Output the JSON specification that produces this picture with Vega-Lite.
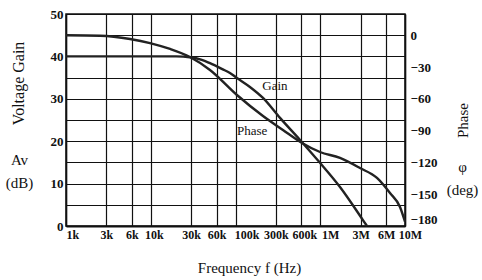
{
  "$schema": "https://vega.github.io/schema/vega-lite/v6.json",
  "width": 339,
  "height": 212,
  "autosize": {"type": "none"},
  "padding": {"left": 66, "top": 14, "right": 77, "bottom": 54},
  "background": "white",
  "config": {
    "view": {"stroke": "#111", "strokeWidth": 1.5},
    "font": "Liberation Serif",
    "axis": {
      "labelFont": "Liberation Serif",
      "titleFont": "Liberation Serif",
      "labelColor": "#111",
      "titleColor": "#111",
      "titleFontWeight": "normal",
      "gridColor": "#111",
      "gridOpacity": 1,
      "gridWidth": 1.2,
      "domainColor": "#111",
      "domainWidth": 1.5,
      "ticks": false,
      "labelOverlap": false
    }
  },
  "datasets": {
    "gain": [
      {"f": 1000, "db": 40},
      {"f": 10000, "db": 40},
      {"f": 20000, "db": 40},
      {"f": 29000, "db": 39.8},
      {"f": 40000, "db": 39.2},
      {"f": 50000, "db": 38.4},
      {"f": 70000, "db": 37.0},
      {"f": 86000, "db": 36.1},
      {"f": 104000, "db": 34.9},
      {"f": 148000, "db": 32.8},
      {"f": 211000, "db": 30.2},
      {"f": 335000, "db": 25.5},
      {"f": 577000, "db": 20.3},
      {"f": 993000, "db": 14.9},
      {"f": 1710000, "db": 9.2},
      {"f": 3190000, "db": 1.4},
      {"f": 3560000, "db": 0}
    ],
    "phase": [
      {"f": 1000, "deg": 0},
      {"f": 2520, "deg": -0.5},
      {"f": 5700, "deg": -3.6},
      {"f": 9800, "deg": -7.4},
      {"f": 16900, "deg": -13},
      {"f": 29000, "deg": -20.6},
      {"f": 50000, "deg": -32.8},
      {"f": 104000, "deg": -56.4},
      {"f": 211000, "deg": -76.2},
      {"f": 363000, "deg": -89.4},
      {"f": 609000, "deg": -101.7},
      {"f": 993000, "deg": -110.2},
      {"f": 1710000, "deg": -115.8},
      {"f": 2940000, "deg": -125.3},
      {"f": 4670000, "deg": -134.7},
      {"f": 6650000, "deg": -148.9},
      {"f": 8730000, "deg": -162.1},
      {"f": 10000000, "deg": -176}
    ],
    "gainLabel": [{"f": 292000, "db": 33, "text": "Gain"}],
    "phaseLabel": [{"f": 157000, "deg": -90, "text": "Phase"}]
  },
  "encoding": {
    "x": {
      "field": "f",
      "type": "quantitative",
      "scale": {"type": "log", "domain": [1000, 10000000]},
      "axis": {
        "values": [1000, 3000, 6000, 10000, 30000, 60000, 100000, 300000, 600000, 1000000, 3000000, 6000000, 10000000],
        "labelExpr": "datum.value >= 1000000 ? round(datum.value / 1000000) + 'M' : round(datum.value / 1000) + 'k'",
        "labelFlush": false,
        "labelOverlap": false,
        "labelAlign": {"condition": {"test": "datum.value == 1000", "value": "left"}, "value": "center"},
        "labelOffset": {"expr": "datum.value == 100000 ? 11 : datum.value == 600000 ? 3 : datum.value == 1000000 ? 10 : datum.value == 10000000 ? 5 : datum.value == 10000 ? 3 : 0"},
        "labelPadding": 3,
        "labelFontSize": 12,
        "labelFontWeight": "bold",
        "grid": true,
        "domainWidth": 2,
        "title": "Frequency f (Hz)",
        "titleFontSize": 15,
        "titleX": 183,
        "titleY": 41,
        "titleAlign": "center",
        "titleBaseline": "middle"
      }
    }
  },
  "layer": [
    {
      "data": {"name": "gain"},
      "mark": {"type": "line", "color": "#222", "strokeWidth": 2.4, "interpolate": "monotone"},
      "encoding": {
        "y": {
          "field": "db",
          "type": "quantitative",
          "scale": {"domain": [0, 50]},
          "axis": {
            "orient": "left",
            "values": [0, 5, 10, 15, 20, 25, 30, 35, 40, 45, 50],
            "labelExpr": "datum.value % 10 === 0 ? datum.label : ''",
            "grid": true,
            "labelPadding": 3,
            "labelFontSize": 13,
            "labelFontWeight": "bold",
            "title": "Voltage Gain",
            "titleAngle": 270,
            "titleFontSize": 16,
            "titleX": -48,
            "titleY": 69,
            "titleAlign": "center",
            "titleBaseline": "middle"
          }
        }
      }
    },
    {
      "data": {"name": "phase"},
      "mark": {"type": "line", "color": "#222", "strokeWidth": 2.4, "interpolate": "monotone"},
      "encoding": {
        "y": {
          "field": "deg",
          "type": "quantitative",
          "scale": {"domain": [-180, 20]},
          "axis": {
            "orient": "right",
            "values": [0, -30, -60, -90, -120, -150, -180],
            "grid": false,
            "labelFlush": true,
            "labelPadding": 5,
            "labelFontSize": 13,
            "labelFontWeight": "bold",
            "title": "Phase",
            "titleAngle": 270,
            "titleFontSize": 15,
            "titleX": 57,
            "titleY": 106,
            "titleAlign": "center",
            "titleBaseline": "middle"
          }
        }
      }
    },
    {
      "data": {"name": "gainLabel"},
      "mark": {"type": "text", "fontSize": 13, "color": "#111", "align": "center", "baseline": "middle"},
      "encoding": {
        "text": {"field": "text"},
        "y": {
          "field": "db",
          "type": "quantitative",
          "scale": {"domain": [0, 50]},
          "axis": {
            "orient": "left",
            "labels": false,
            "domain": false,
            "grid": false,
            "title": ["Av", "(dB)"],
            "titleAngle": 0,
            "titleFontSize": 15,
            "titleLineHeight": 23,
            "titleX": -47,
            "titleY": 145,
            "titleAlign": "center",
            "titleBaseline": "middle"
          }
        }
      }
    },
    {
      "data": {"name": "phaseLabel"},
      "mark": {"type": "text", "fontSize": 13, "color": "#111", "align": "center", "baseline": "middle"},
      "encoding": {
        "text": {"field": "text"},
        "y": {
          "field": "deg",
          "type": "quantitative",
          "scale": {"domain": [-180, 20]},
          "axis": {
            "orient": "right",
            "labels": false,
            "domain": false,
            "grid": false,
            "title": ["φ", "(deg)"],
            "titleAngle": 0,
            "titleFontSize": 15,
            "titleLineHeight": 23,
            "titleX": 57,
            "titleY": 152,
            "titleAlign": "center",
            "titleBaseline": "middle"
          }
        }
      }
    }
  ],
  "resolve": {"scale": {"y": "independent"}}
}
